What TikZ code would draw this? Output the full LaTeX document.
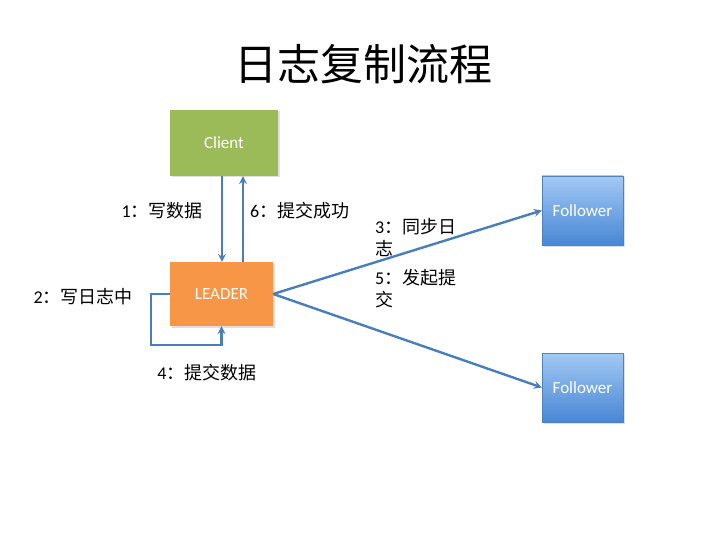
\documentclass[tikz,border=0pt]{standalone}
\usepackage{fontspec}
\setmainfont{Carlito}
\newfontfamily\cjk{Noto Sans CJK SC}
\usetikzlibrary{
    arrows.meta,
    shadows,
    positioning
}
\definecolor{clientgreen}{RGB}{155,187,89}
\definecolor{leaderorange}{RGB}{247,150,70}
\definecolor{followtop}{RGB}{163,201,245}
\definecolor{followbot}{RGB}{72,134,212}
\definecolor{followedge}{RGB}{79,129,189}
\definecolor{flowblue}{RGB}{74,126,187}
\tikzset{
    box/.style={minimum width=#1, font=\fontsize{17}{20}\selectfont, text=white,
        drop shadow={opacity=0.25, shadow xshift=1.5pt, shadow yshift=-1.5pt}},
    flow/.style={draw=flowblue, line width=2.4pt, -{Stealth[length=8pt, width=8pt, inset=3pt]}},
    lbl/.style={font=\fontsize{18}{22}\selectfont, align=left, inner sep=0pt}
}

\begin{document}
\begin{tikzpicture}[x=1pt, y=-1pt]
                        \useasboundingbox (0,0) rectangle (720,540);
                        \node[font=\cjk\fontsize{43}{50}\selectfont] (title) at (363,64) {日志复制流程};

                        \node[box=108pt, minimum height=66pt, fill=clientgreen] (client) at (224,143) {Client};
                        \node[box=103pt, minimum height=64pt, fill=leaderorange] (leader) at (221.5,294) {LEADER};
                        \node[box=81pt, minimum height=69pt, draw=followedge, thin, top color=followtop, bottom color=followbot] (fa) at (582.5,210.5) {Follower};
                        \node[box=81pt, minimum height=69pt, draw=followedge, thin, top color=followtop, bottom color=followbot] (fb) at (582.5,387.5) {Follower};

                        \coordinate (loop) at (151,345);

                        \draw[flow] ([xshift=-2pt]client.south) -- ([xshift=-2pt]client.south |- leader.north);
                        \draw[flow] ([xshift=19pt]client.south |- leader.north) -- ([xshift=19pt]client.south);
                        \draw[flow] (leader.west) -- (leader.west -| loop) -- (loop) -| (leader.south);
                        \draw[flow] (leader.east) -- (fa.west);
                        \draw[flow] (leader.east) -- (fb.west);

                        \node[lbl, anchor=east] (write) at (203,211) {1{\cjk ：写数据}};
                        \node[lbl, anchor=west] (ok) at (250,211) {6{\cjk ：提交成功}};
                        \node[lbl, anchor=east] (log) at (133,297) {2{\cjk ：写日志中}};
                        \node[lbl] (commit) at (207,373) {4{\cjk ：提交数据}};
                        \node[lbl, anchor=north west] (sync) at (375,218) {3{\cjk ：同步日}\\{\cjk 志}};
                        \node[lbl, anchor=north west] (start) at (375,269) {5{\cjk ：发起提}\\{\cjk 交}};
\end{tikzpicture}
\end{document}
